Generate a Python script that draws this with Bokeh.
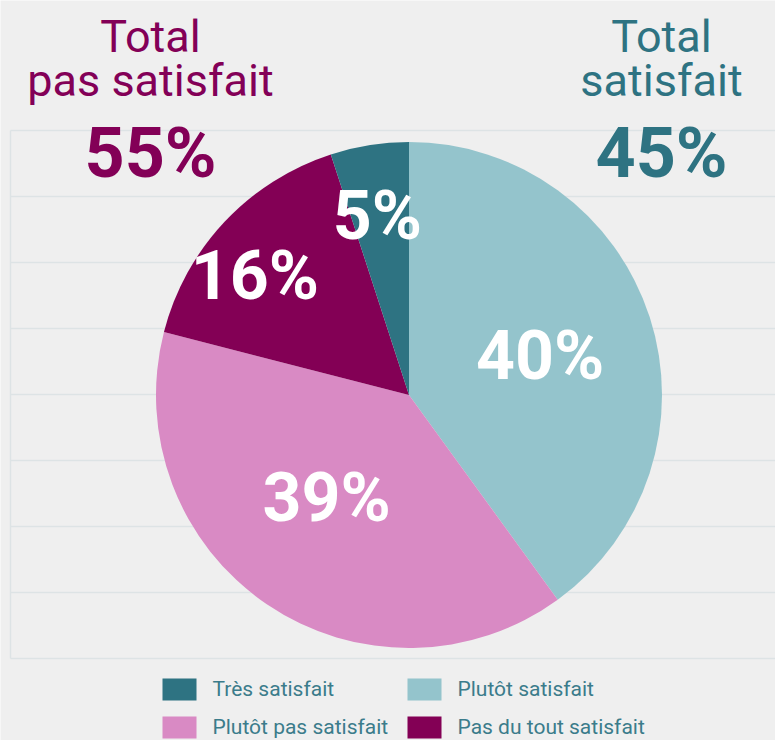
import math
from bokeh.plotting import figure
from bokeh.models import Range1d, ColumnDataSource
from bokeh.core.properties import value
from bokeh.embed import file_html
from bokeh.resources import INLINE

# ---------------- data ----------------
categories = ["Très satisfait", "Plutôt satisfait", "Plutôt pas satisfait", "Pas du tout satisfait"]
percent = [5, 40, 39, 16]
colors = ["#2e7382", "#94c4cc", "#d98ac4", "#830055"]
# order of slices clockwise from 12 o'clock
pie_order = [1, 2, 3, 0]

group_titles = [["Total", "pas satisfait"], ["Total", "satisfait"]]
group_members = [[2, 3], [0, 1]]
group_colors = ["#830057", "#2e7382"]

# ---------------- layout ----------------
W, H = 775, 740
BG = "#efefef"
GRID = "#dde3e5"
FONT = "Roboto"


def Y(ry):
    # screen y (from top) -> data y (up)
    return H - ry


p = figure(width=W, height=H, output_backend="svg", toolbar_location=None,
           x_range=Range1d(0, W), y_range=Range1d(0, H), min_border=0)
p.axis.visible = False
p.grid.visible = False
p.outline_line_color = None
p.background_fill_color = BG
p.border_fill_color = BG

# background grid lines
n_lines = 9
grid_y = [Y(130 + 66 * k) for k in range(n_lines)]
p.segment(x0=[10] * n_lines, x1=[W] * n_lines, y0=grid_y, y1=grid_y,
          line_color=GRID, line_width=1.5)
p.segment(x0=[10], x1=[10], y0=[grid_y[0]], y1=[grid_y[-1]],
          line_color=GRID, line_width=1.5)

# pie
cx, cy, R = 408.5, Y(394.5), 253
total = sum(percent)
starts, ends, cols, mids = [], [], [], []
acc = 0.0
for i in pie_order:
    a0 = 90 - 360 * acc / total
    acc += percent[i]
    a1 = 90 - 360 * acc / total
    starts.append(math.radians(a0))
    ends.append(math.radians(a1))
    cols.append(colors[i])
    mids.append((a0 + a1) / 2)

src = ColumnDataSource(dict(start=starts, end=ends, color=cols))
p.wedge(x=cx, y=cy, radius=R, start_angle="start", end_angle="end",
        direction="clock", fill_color="color", line_color=None, source=src)

# slice labels (radial fraction and small angle tweak per slice, in pie order)
label_frac = [0.54, 0.52, 0.77, 0.72]
label_tweak = [-1.6, -4.6, 5.5, 1.0]
lx, ly, lt = [], [], []
for k, i in enumerate(pie_order):
    ang = math.radians(mids[k] + label_tweak[k])
    r = label_frac[k] * R
    lx.append(cx + r * math.cos(ang))
    ly.append(cy + r * math.sin(ang))
    lt.append(f"{percent[i]}%")
p.text(x=lx, y=ly, text=lt, text_color="white", text_font=value(FONT),
       text_font_style="bold", text_font_size="68px",
       text_align="center", text_baseline="middle")

# group totals
title_x = [150, 661]
for g in range(2):
    tot = sum(percent[i] for i in group_members[g])
    p.text(x=[title_x[g]] * 2, y=[Y(36), Y(80)], text=group_titles[g],
           text_color=group_colors[g], text_font=value(FONT),
           text_font_size="45px", text_align="center", text_baseline="middle")
    p.text(x=[title_x[g]], y=[Y(152)], text=[f"{tot}%"],
           text_color=group_colors[g], text_font=value(FONT), text_font_style="bold",
           text_font_size="70px", text_align="center", text_baseline="middle")

# legend (2 x 2)
sw_left = [162, 407]
row_y = [Y(689), Y(727)]
sx, sy, sc, tx, ty, tt = [], [], [], [], [], []
for i, name in enumerate(categories):
    c, r = i % 2, i // 2
    sx.append(sw_left[c] + 17)
    sy.append(row_y[r])
    sc.append(colors[i])
    tx.append(sw_left[c] + 50)
    ty.append(row_y[r] + 1)
    tt.append(name)
p.rect(x=sx, y=sy, width=34, height=22, fill_color=sc, line_color=None)
p.text(x=tx, y=ty, text=tt, text_color="#3b7c8b", text_font=value(FONT),
       text_font_size="21px", text_align="left", text_baseline="middle")

open("out.html", "w").write(file_html(p, INLINE))
